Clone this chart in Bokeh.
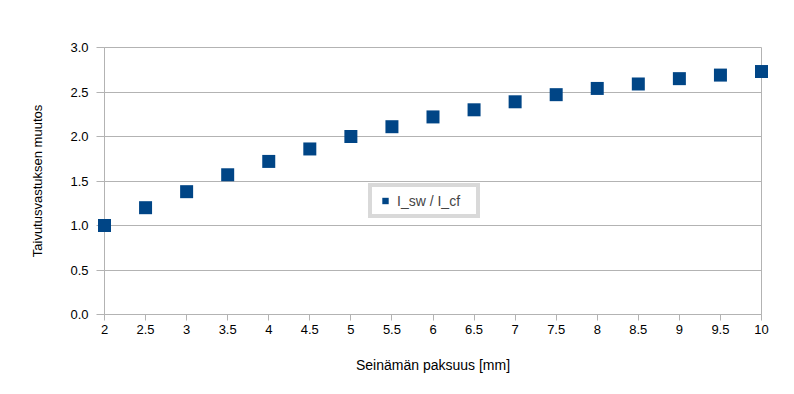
from bokeh.plotting import figure
from bokeh.models import FixedTicker, Range1d, Legend, LegendItem, ColumnDataSource
from bokeh.embed import file_html
from bokeh.resources import INLINE

thickness = [2, 2.5, 3, 3.5, 4, 4.5, 5, 5.5, 6, 6.5, 7, 7.5, 8, 8.5, 9, 9.5, 10]
ratio = [1.00, 1.20, 1.38, 1.57, 1.72, 1.86, 2.00, 2.11, 2.22, 2.30, 2.39, 2.47, 2.54, 2.59, 2.65, 2.69, 2.73]
x_ticks = [2, 2.5, 3, 3.5, 4, 4.5, 5, 5.5, 6, 6.5, 7, 7.5, 8, 8.5, 9, 9.5, 10]
x_tick_labels = ["2", "2.5", "3", "3.5", "4", "4.5", "5", "5.5", "6", "6.5", "7", "7.5", "8", "8.5", "9", "9.5", "10"]
y_ticks = [0, 0.5, 1.0, 1.5, 2.0, 2.5, 3.0]
y_tick_labels = ["0.0", "0.5", "1.0", "1.5", "2.0", "2.5", "3.0"]
series_name = "I_sw / I_cf"
x_title = "Seinämän paksuus [mm]"
y_title = "Taivutusvastuksen muutos"

FONT = "Liberation Sans"
GRID = "#b3b3b3"
BLUE = "#004586"

p = figure(width=778, height=378, output_backend="svg", toolbar_location=None,
           x_range=Range1d(2, 10), y_range=Range1d(0, 3),
           min_border_left=104, min_border_right=17, min_border_top=47, min_border_bottom=64)

src = ColumnDataSource(data=dict(x=thickness, y=ratio))
r = p.scatter("x", "y", source=src, marker="square", size=13, fill_color=BLUE,
              line_color=None, level="overlay")

p.xaxis.ticker = FixedTicker(ticks=x_ticks)
p.yaxis.ticker = FixedTicker(ticks=y_ticks)
p.xaxis.major_label_overrides = {t: l for t, l in zip(x_ticks, x_tick_labels)}
p.yaxis.major_label_overrides = {t: l for t, l in zip(y_ticks, y_tick_labels)}

for ax in (p.xaxis[0], p.yaxis[0]):
    ax.axis_line_color = GRID
    ax.major_tick_line_color = GRID
    ax.minor_tick_line_color = None
    ax.major_tick_in = 0
    ax.major_label_text_font = FONT
    ax.major_label_text_font_size = "13px"
    ax.major_label_text_color = "#000000"
    ax.axis_label_text_font = FONT
    ax.axis_label_text_font_style = "normal"
    ax.axis_label_text_color = "#000000"

p.yaxis.major_tick_out = 8
p.xaxis.major_tick_out = 6
p.yaxis.major_label_standoff = 8
p.xaxis.major_label_standoff = 4
p.xaxis.axis_label = x_title
p.yaxis.axis_label = y_title
p.xaxis.axis_label_text_font_size = "14px"
p.yaxis.axis_label_text_font_size = "13px"
p.xaxis.axis_label_standoff = 20
p.yaxis.axis_label_standoff = 22

p.xgrid.grid_line_color = None
p.ygrid.grid_line_color = GRID
p.ygrid.grid_line_width = 1
p.outline_line_color = GRID
p.outline_line_width = 1
p.background_fill_color = "white"
p.border_fill_color = "white"

legend = Legend(items=[LegendItem(label=series_name, renderers=[r])],
                location=(264, 96), orientation="vertical",
                border_line_color=GRID, border_line_width=4,
                label_text_font=FONT, label_text_font_size="14px",
                glyph_width=16, glyph_height=17, padding=5, margin=0,
                label_standoff=4, label_width=74, label_height=17,
                spacing=0, background_fill_alpha=1)
p.add_layout(legend, "center")

open("out.html", "w").write(file_html(p, INLINE))
